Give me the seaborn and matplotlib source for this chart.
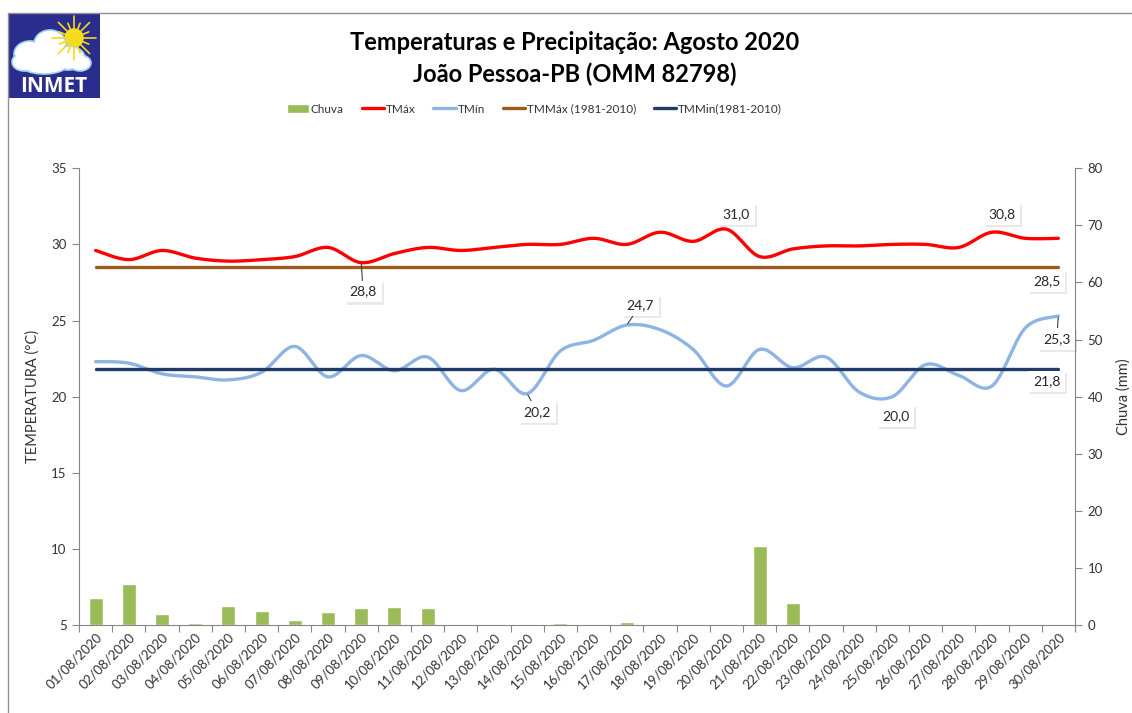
import numpy as np
import matplotlib.pyplot as plt
import seaborn as sns
import matplotlib.patheffects as pe
from matplotlib.lines import Line2D
from matplotlib.patches import Rectangle, Ellipse, Circle

# dados diarios - Joao Pessoa, agosto 2020
dias = ["%02d/08/2020" % d for d in range(1, 31)]
chuva = [4.7, 7.2, 1.9, 0.3, 3.4, 2.5, 0.9, 2.3, 2.9, 3.1,
         2.9, 0.0, 0.0, 0.0, 0.3, 0.0, 0.5, 0.0, 0.0, 0.0,
         13.9, 3.9, 0.0, 0.0, 0.0, 0.0, 0.0, 0.0, 0.0, 0.0]
tmax = [29.6, 29.0, 29.6, 29.1, 28.9, 29.0, 29.2, 29.8, 28.8, 29.4,
        29.8, 29.6, 29.8, 30.0, 30.0, 30.4, 30.0, 30.8, 30.2, 31.0,
        29.2, 29.7, 29.9, 29.9, 30.0, 30.0, 29.8, 30.8, 30.4, 30.4]
tmin = [22.3, 22.2, 21.5, 21.3, 21.1, 21.6, 23.3, 21.3, 22.7, 21.7,
        22.6, 20.4, 21.8, 20.2, 23.0, 23.7, 24.7, 24.4, 23.1, 20.7,
        23.1, 21.9, 22.6, 20.3, 20.0, 22.1, 21.4, 20.7, 24.5, 25.3]
tmmax_normal = 28.5
tmmin_normal = 21.8

# rotulos de dados: (dia, valor, texto)
rotulos = [(8, 28.8, "28,8"), (13, 20.2, "20,2"), (16, 24.7, "24,7"),
           (19, 31.0, "31,0"), (27, 30.8, "30,8"), (29, 28.5, "28,5"),
           (29, 25.3, "25,3"), (29, 21.8, "21,8"), (24, 20.0, "20,0")]
# posicao das caixas (x em indice do dia, y em graus)
pos_rotulos = [(8.06, 26.9), (13.3, 19.0), (16.4, 26.0),
               (19.3, 32.0), (27.3, 32.0), (28.65, 27.6),
               (28.95, 23.8), (28.65, 21.0), (24.1, 18.75)]
com_linha = ["28,8", "20,2", "24,7", "25,3"]


def suavizar(y, n=24):
    # curva suave tipo Excel (bezier com tangentes de Catmull-Rom)
    y = np.asarray(y, dtype=float)
    x = np.arange(len(y), dtype=float)
    pts = np.column_stack([x, y])
    pad = np.vstack([pts[0], pts, pts[-1]])
    xs, ys = [], []
    t = np.linspace(0, 1, n, endpoint=False)[:, None]
    for i in range(len(pts) - 1):
        p0, p1, p2, p3 = pad[i], pad[i + 1], pad[i + 2], pad[i + 3]
        c1 = p1 + (p2 - p0) / 6
        c2 = p2 - (p3 - p1) / 6
        b = ((1 - t) ** 3) * p1 + 3 * ((1 - t) ** 2) * t * c1 + 3 * (1 - t) * t ** 2 * c2 + t ** 3 * p2
        xs.extend(b[:, 0])
        ys.extend(b[:, 1])
    xs.append(x[-1])
    ys.append(y[-1])
    return np.array(xs), np.array(ys)


sns.set_style("white")
plt.rcParams['font.family'] = ['Lato', 'DejaVu Sans']

fig = plt.figure(figsize=(11.32, 7.13), dpi=100)
ax = fig.add_axes([0.0698, 0.1234, 0.8798, 0.6406])
ax2 = ax.twinx()

cinza = '#868686'
texto = '#333333'

# barras de chuva no eixo secundario
sns.barplot(x=list(range(30)), y=chuva, ax=ax2, color='#9BBB59',
            saturation=1, width=0.42, native_scale=True, label='Chuva')

# linhas de temperatura
xs, ys = suavizar(tmax)
sns.lineplot(x=xs, y=ys, ax=ax, color='#FF0000', lw=2.4, sort=False, label='TMáx')
xs, ys = suavizar(tmin)
sns.lineplot(x=xs, y=ys, ax=ax, color='#8DB4E2', lw=2.4, sort=False, label='TMín')
sns.lineplot(x=list(range(30)), y=[tmmax_normal] * 30, ax=ax, color='#9C5A1C',
             lw=2.4, label='TMMáx (1981-2010)')
sns.lineplot(x=list(range(30)), y=[tmmin_normal] * 30, ax=ax, color='#1F3B66',
             lw=2.4, label='TMMin(1981-2010)')

for a in (ax, ax2):
    if a.get_legend() is not None:
        a.get_legend().remove()

ax.set_zorder(ax2.get_zorder() + 1)
ax.patch.set_visible(False)

ax.set_xlim(-0.5, 29.5)
ax.set_ylim(5, 35)
ax.set_yticks(range(5, 36, 5))
ax2.set_ylim(0, 80)
ax2.set_yticks(range(0, 81, 10))

# ticks do eixo x entre categorias, rotulos no centro
ax.set_xticks(np.arange(-0.5, 30, 1))
ax.set_xticklabels([])
ax.set_xticks(range(30), labels=dias, minor=True)
ax.tick_params(axis='x', which='major', direction='out', length=5, color=cinza, bottom=True)
ax.tick_params(axis='x', which='minor', length=0, pad=4, labelsize=9.5, labelcolor=texto)
for lab in ax.get_xticklabels(minor=True):
    lab.set_rotation(45)
    lab.set_ha('right')
    lab.set_va('top')
    lab.set_rotation_mode('anchor')

ax.tick_params(axis='y', direction='out', length=5, color=cinza, left=True,
               labelsize=9.5, labelcolor=texto, pad=4)
ax2.tick_params(axis='y', direction='out', length=5, color=cinza, right=True,
                labelsize=9.5, labelcolor=texto, pad=4)
ax2.set_xlabel('')

for s in ['top', 'right']:
    ax.spines[s].set_visible(False)
for s in ['top', 'left', 'bottom']:
    ax2.spines[s].set_visible(False)
for s in ['left', 'bottom']:
    ax.spines[s].set_color(cinza)
ax2.spines['right'].set_color(cinza)

ax.set_ylabel('TEMPERATURA (°C)', fontsize=10.5, color=texto, labelpad=8)
ax2.set_ylabel('Chuva (mm)', fontsize=10.5, color=texto, labelpad=10)

# rotulos de dados
for (xd, yd, txt), (xt, yt) in zip(rotulos, pos_rotulos):
    props = None
    if txt in com_linha:
        props = dict(arrowstyle='-', color='#404040', lw=0.8, shrinkA=0, shrinkB=1)
    t = ax.annotate(txt, xy=(xd, yd), xytext=(xt, yt), ha='center', va='center',
                    fontsize=10, color='#262626', arrowprops=props,
                    bbox=dict(boxstyle='square,pad=0.35', fc='white', ec='none'))
    t.get_bbox_patch().set_path_effects([pe.withSimplePatchShadow(offset=(1.5, -1.5), alpha=0.12), pe.Normal()])

# titulo
fig.text(0.508, 0.941, 'Temperaturas e Precipitação: Agosto 2020', ha='center', va='center',
         fontsize=17, fontweight='bold', color='black')
fig.text(0.508, 0.896, 'João Pessoa-PB (OMM 82798)', ha='center', va='center',
         fontsize=17, fontweight='bold', color='black')

# legenda
handles = [ax2.containers[0]] + ax.get_lines()[:4]
labels = ['Chuva', 'TMáx', 'TMín', 'TMMáx (1981-2010)', 'TMMin(1981-2010)']
fig.legend(handles, labels, loc='center', bbox_to_anchor=(0.472, 0.847), ncol=5,
           frameon=False, fontsize=8.5, handlelength=1.9, handletextpad=0.15,
           columnspacing=1.5, labelcolor=texto)

# moldura do grafico
fig.add_artist(Line2D([8 / 1132, 1], [1 - 13 / 713] * 2, color='#909090', lw=1))
fig.add_artist(Line2D([8 / 1132] * 2, [0, 1 - 13 / 713], color='#909090', lw=1))

# logo INMET
lg = fig.add_axes([8 / 1132, 1 - 98 / 713, 92 / 1132, 85 / 713])
lg.set_xlim(0, 92)
lg.set_ylim(0, 85)
lg.axis('off')
lg.add_patch(Rectangle((0, 0), 92, 85, color='#2B2D8E'))
sol = (66, 60)
for ang in np.linspace(0, 2 * np.pi, 16, endpoint=False):
    r2 = 22 if int(round(ang / (np.pi / 8))) % 2 == 0 else 16
    lg.plot([sol[0], sol[0] + r2 * np.cos(ang)], [sol[1], sol[1] + r2 * np.sin(ang)],
            color='#F5D91E', lw=1.2)
lg.add_patch(Circle(sol, 9, color='#F9E21B'))
for (cx, cy, w, h) in [(22, 44, 32, 26), (42, 54, 32, 28), (60, 40, 34, 24),
                       (36, 34, 48, 20), (16, 36, 24, 18), (72, 35, 22, 16)]:
    lg.add_patch(Ellipse((cx, cy), w, h, fc='white', ec='#9FD3F0', lw=1.2))
for (cx, cy, w, h) in [(22, 44, 29, 23), (42, 54, 29, 25), (60, 40, 31, 21),
                       (36, 34, 45, 17), (16, 36, 21, 15), (72, 35, 19, 13)]:
    lg.add_patch(Ellipse((cx, cy), w, h, fc='white', ec='none'))
lg.text(46, 12, 'INMET', ha='center', va='center', color='white', fontsize=15,
        fontweight='bold', family=['Open Sans', 'DejaVu Sans'])

fig.savefig('out.png', dpi=100)
